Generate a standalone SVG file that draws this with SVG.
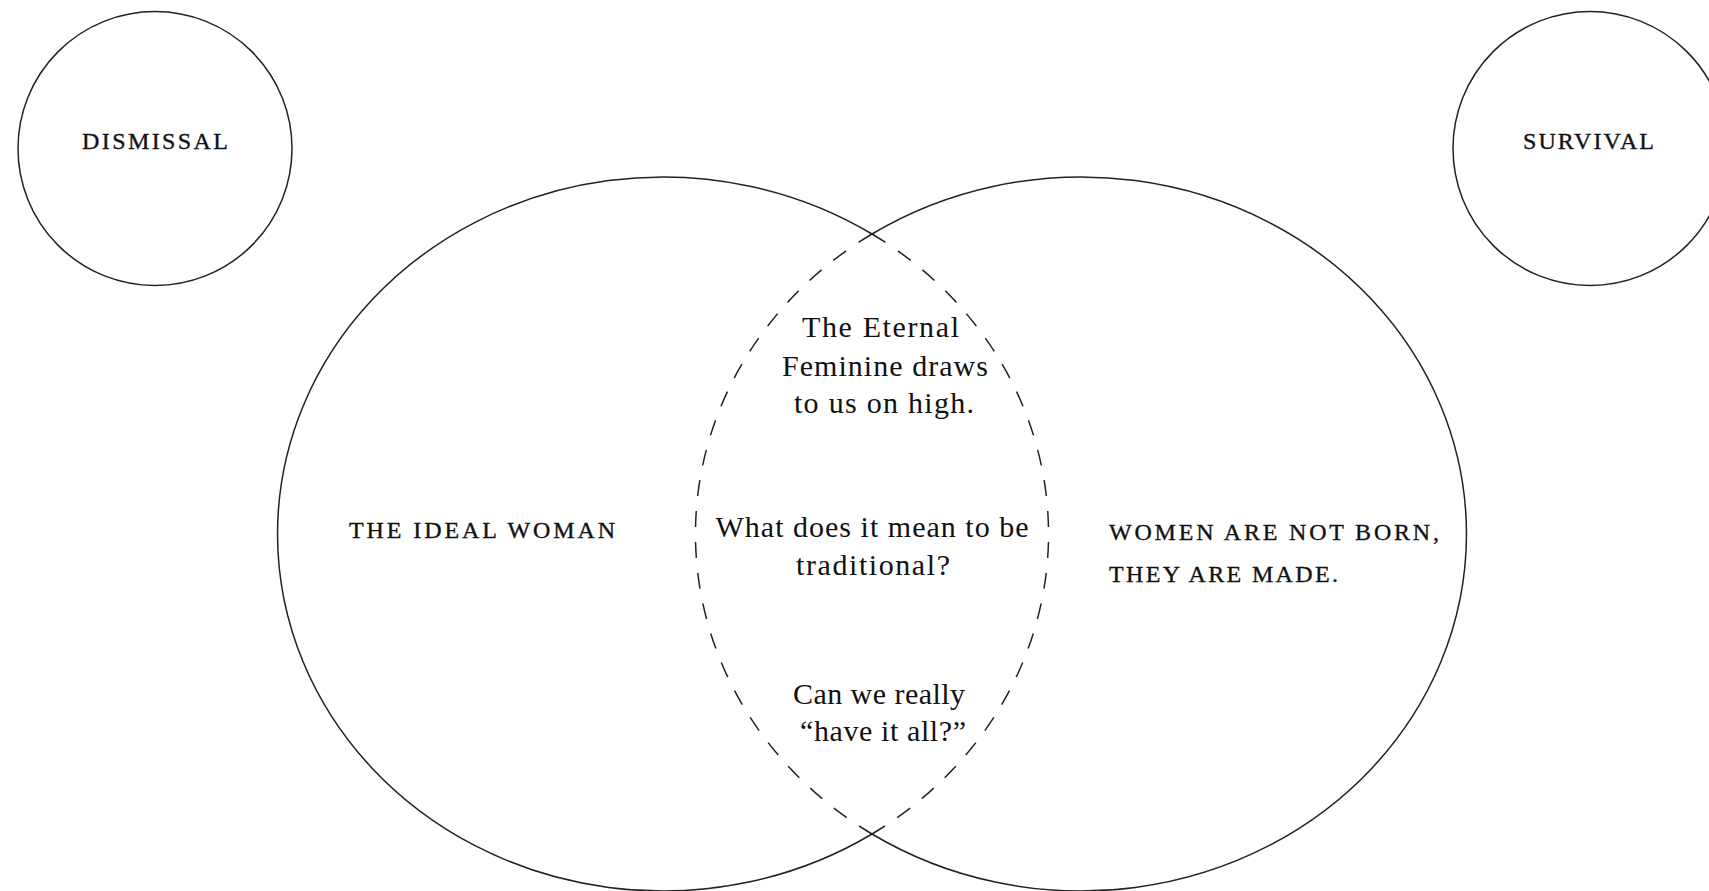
<svg xmlns="http://www.w3.org/2000/svg" width="1709" height="891" viewBox="0 0 1709 891">
  <style>
    .ring { fill: none; stroke: #222222; stroke-width: 1.5; }
    .dash { fill: none; stroke: #222222; stroke-width: 1.5; stroke-dasharray: 16 15; }
    .caps { font-family: "Liberation Serif", "DejaVu Serif", serif; font-size: 24px; fill: #111111; stroke: #111111; stroke-width: 0.35; }
    .body { font-family: "Liberation Serif", "DejaVu Serif", serif; font-size: 30px; fill: #111111; text-anchor: middle; }
    .mid { text-anchor: middle; }
  </style>
  <rect width="1709" height="891" fill="#ffffff"/>

  <g id="dismissal">
    <circle class="ring" cx="155" cy="148.5" r="137"/>
    <text class="caps mid" x="155" y="149" textLength="146" lengthAdjust="spacing">DISMISSAL</text>
  </g>

  <g id="survival">
    <circle class="ring" cx="1590" cy="148.5" r="137"/>
    <text class="caps mid" x="1588.5" y="149" textLength="131" lengthAdjust="spacing">SURVIVAL</text>
  </g>

  <g id="ideal-woman">
    <path class="ring" d="M 872 234 A 385.5 357 0 1 0 872 834"/>
    <text class="caps" x="349" y="538" textLength="266" lengthAdjust="spacing">THE IDEAL WOMAN</text>
  </g>

  <g id="women-made">
    <path class="ring" d="M 872 234 A 385.5 357 0 1 1 872 834"/>
    <text class="caps" x="1109" y="540" textLength="330" lengthAdjust="spacing">WOMEN ARE NOT BORN,</text>
    <text class="caps" x="1109" y="582" textLength="229" lengthAdjust="spacing">THEY ARE MADE.</text>
  </g>

  <g id="intersection">
    <path class="dash" d="M 872 234 A 385.5 357 0 0 1 872 834"/>
    <path class="dash" d="M 872 234 A 385.5 357 0 0 0 872 834"/>
    <text class="body" x="880.5" y="337" textLength="157" lengthAdjust="spacing">The Eternal</text>
    <text class="body" x="885" y="376" textLength="206" lengthAdjust="spacing">Feminine draws</text>
    <text class="body" x="884" y="413" textLength="180" lengthAdjust="spacing">to us on high.</text>
    <text class="body" x="872" y="537" textLength="313" lengthAdjust="spacing">What does it mean to be</text>
    <text class="body" x="873" y="575" textLength="154" lengthAdjust="spacing">traditional?</text>
    <text class="body" x="879" y="704" textLength="172" lengthAdjust="spacing">Can we really</text>
    <text class="body" x="883" y="741" textLength="166" lengthAdjust="spacing">“have it all?”</text>
  </g>
</svg>
